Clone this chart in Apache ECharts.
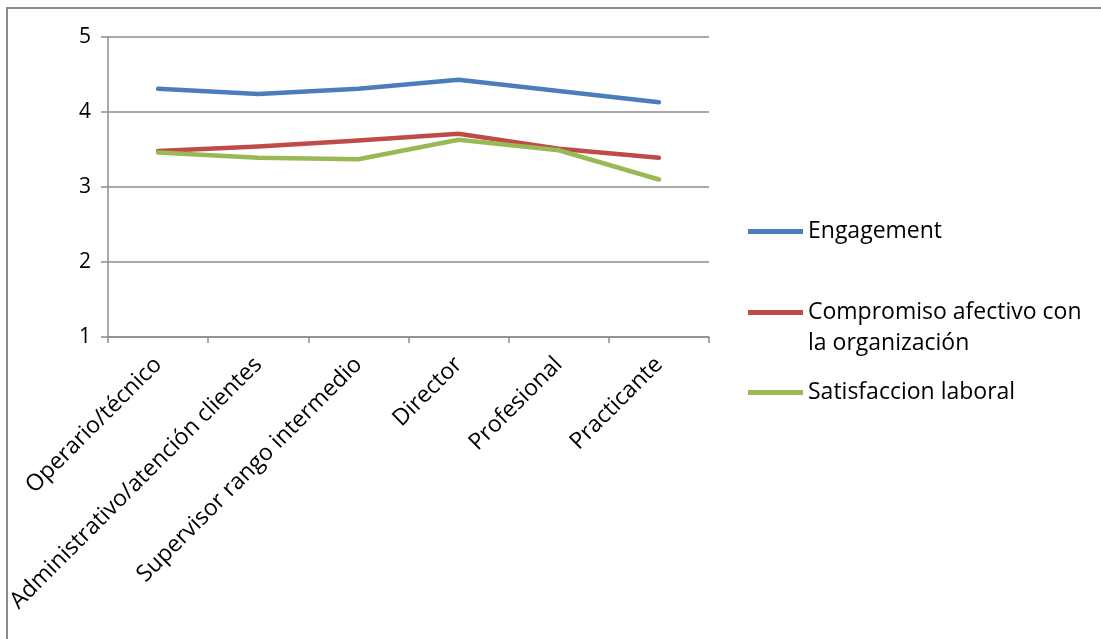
<!DOCTYPE html>
<html>
<head>
<meta charset="utf-8">
<script src="https://cdn.jsdelivr.net/npm/echarts@6/dist/echarts.min.js"></script>
<style>
html,body{margin:0;padding:0;background:#fff;}
#c{width:1101px;height:639px;}
</style>
</head>
<body>
<div id="c"></div>
<script>
const categories = ["Operario/técnico", "Administrativo/atención clientes", "Supervisor rango intermedio", "Director", "Profesional", "Practicante"];
const engagement = [4.31, 4.24, 4.31, 4.43, 4.28, 4.13];
const compromiso = [3.48, 3.54, 3.62, 3.71, 3.51, 3.39];
const satisfaccion = [3.46, 3.39, 3.37, 3.63, 3.49, 3.10];
const yTicks = [1, 2, 3, 4, 5];
const seriesNames = ["Engagement", "Compromiso afectivo con la organización", "Satisfaccion laboral"];

const FONT = "Open Sans";
const chart = echarts.init(document.getElementById('c'), null, {renderer: 'canvas'});
const gridC = '#8c8c8c';
function mk(name, data, color) {
  return {
    name: name, type: 'line', data: data, symbol: 'none', smooth: false,
    lineStyle: {color: color, width: 4.5, cap: 'round', join: 'round'},
    itemStyle: {color: color}, emphasis: {disabled: true}, animation: false
  };
}
const legendBase = {
  orient: 'vertical', left: 743, itemWidth: 55, itemHeight: 5, icon: 'rect',
  textStyle: {fontFamily: FONT, fontSize: 23, color: '#000', lineHeight: 31},
  selectedMode: false, itemGap: 0
};
chart.setOption({
  animation: false,
  grid: {left: 108, right: 392, top: 37, bottom: 302, containLabel: false, outerBoundsMode: 'none'},
  legend: [
    Object.assign({}, legendBase, {top: 211, data: [seriesNames[0]]}),
    Object.assign({}, legendBase, {top: 292, data: [seriesNames[1]], itemHeight: 36,
      icon: 'path://M0,0 H55 V5 H0 Z M0,36 H0.01 V36.01 Z',
      formatter: () => 'Compromiso afectivo con\nla organización'}),
    Object.assign({}, legendBase, {top: 372, data: [seriesNames[2]]})
  ],
  xAxis: {
    type: 'category', data: categories, boundaryGap: true,
    axisLine: {lineStyle: {color: gridC, width: 1.5}},
    axisTick: {show: true, length: 6, lineStyle: {color: gridC, width: 1.5}},
    axisLabel: {rotate: 45, interval: 0, fontFamily: FONT, fontSize: 23, color: '#000', margin: 24}
  },
  yAxis: {
    type: 'value', min: yTicks[0], max: yTicks[yTicks.length - 1], interval: 1,
    axisLine: {show: true, lineStyle: {color: gridC, width: 1.5}},
    axisTick: {show: true, length: 7, lineStyle: {color: gridC, width: 1.5}},
    splitLine: {show: true, lineStyle: {color: gridC, width: 1.5}},
    axisLabel: {fontFamily: FONT, fontSize: 21, color: '#000', margin: 17}
  },
  series: [
    mk(seriesNames[0], engagement, '#4A7EBB'),
    mk(seriesNames[1], compromiso, '#BE4B48'),
    mk(seriesNames[2], satisfaccion, '#98B954')
  ],
  graphic: [
    {type: 'polyline', shape: {points: [[7, 639], [7, 8], [1101, 8]]}, style: {stroke: '#8c8c8c', lineWidth: 2, fill: null}, silent: true}
  ]
});
</script>
</body>
</html>
